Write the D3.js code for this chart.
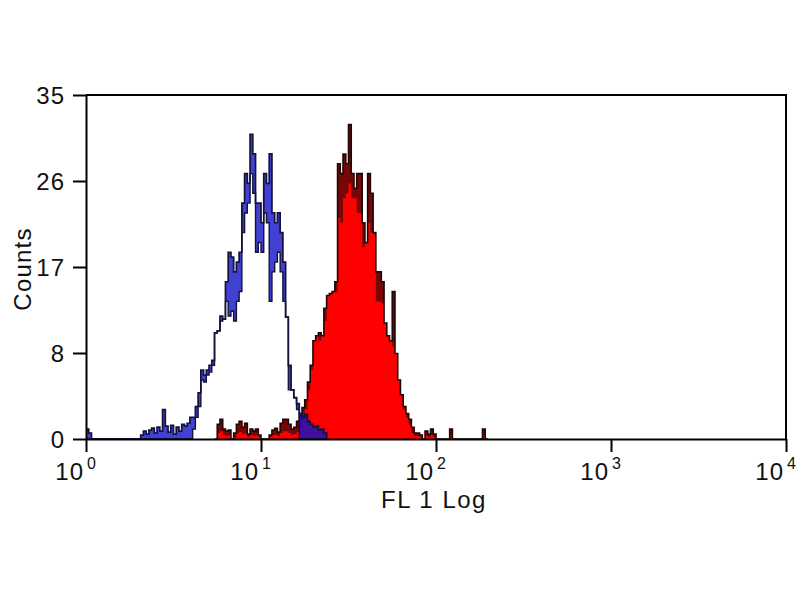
<!DOCTYPE html>
<html>
<head>
<meta charset="utf-8">
<script src="https://cdn.jsdelivr.net/npm/d3@7"></script>
<style>
  html, body { margin: 0; padding: 0; background: #ffffff; }
  svg { display: block; }
  text { font-family: "Liberation Sans", Arial, Helvetica, sans-serif; fill: #111; }
</style>
</head>
<body>
<script>
// ---------------- data ----------------
const binsPerDecade = 64;                 // histogram channels per decade
const xDomain = [1, 10000];
const xTickValues = [1, 10, 100, 1000, 10000];
const xTickBase = ["10", "10", "10", "10", "10"];
const xTickExponents = ["0", "1", "2", "3", "4"];
const yDomain = [0, 35];
const yTickValues = [0, 8.75, 17.5, 26.25, 35];
const yTickLabels = ["0", "8", "17", "26", "35"];
const xLabel = "FL 1 Log";
const yLabel = "Counts";

// control (blue outline) histogram: per-bin peak and trough counts, starting at bin 0
const blueStart = 0;
const blueHi = [1, 0.6,
  0,0,0,0,0,0,0,0,0,0,0,0,0,0,0,0,0,0,
  0.4, 0.8, 0.5, 0.9, 1.1, 0.6, 1.2, 0.8, 3.0, 1.3,
  0.7, 1.4, 0.5, 1.2, 0.8, 1.5, 1.3, 1.6, 2.2, 2.2,
  3.3, 4.7, 7, 6.5, 7, 7.5, 8, 10.8, 11, 12.5,
  12.2, 16, 19, 18.5, 17, 18, 19, 24, 27, 26,
  31, 29, 24, 24, 22, 27, 26, 29, 23, 22,
  23, 21, 18, 12.4, 7.5, 5, 4.2, 3.6, 2.6, 2.2,
  2.5, 1.8, 1.5, 1.2, 1.3, 0.9, 1.0, 0.6];
const blueLo = [0, 0,
  0,0,0,0,0,0,0,0,0,0,0,0,0,0,0,0,0,0,
  0, 0, 0, 0, 0, 0, 0, 0, 0, 0,
  0, 0, 0, 0, 0, 0, 0, 0, 0, 1,
  2.2, 3.3, 6, 5.8, 6.5, 6.8, 7.5, 10.8, 11, 12,
  12.2, 14, 12.5, 13, 12, 14, 15, 21, 23, 24,
  27, 25, 19, 20, 19, 23, 22, 14, 17, 18,
  19, 17, 14, 12.4, 5, 5, 4.2, 3,
  0, 0, 0, 0, 0, 0, 0, 0, 0, 0];

// stained (red filled) histogram: per-bin peak and trough counts, starting at bin 47
const redStart = 47;
const redHi = [0, 1.5, 2.0, 1.0, 0.8, 0.9, 0, 0.6, 1.5, 1.8,
  1.2, 1.6, 0.5, 1.0, 0.8, 1.0, 0.4, 0, 0, 0,
  0.4, 0.9, 1.1, 0.7, 1.6, 2.0, 2.0, 1.5, 1.0, 1.2,
  1.8, 2.5, 3.2, 4.0, 5.8, 7.5, 10, 10.5, 10.8, 10.5,
  13.3, 14.6, 14.8, 15, 16, 28, 27, 29, 28, 32,
  27, 25.5, 27, 27, 22, 20, 27, 25, 21, 17,
  17, 16, 11.8, 10.5, 10, 15, 8.7, 6, 4.5, 3.3,
  2.6, 2.0, 1.2, 0.6, 0.6, 0.4, 0, 0.8, 0.5, 1.0,
  0.5, 0, 0, 0, 0, 0, 1.0, 0, 0, 0,
  0, 0, 0, 0, 0, 0, 0, 0, 1.0, 0];
const redLo = [0, 0.6, 0.8, 0.4, 0.3, 0.4, 0, 0.2, 0.6, 0.7,
  0.5, 0.6, 0.2, 0.4, 0.3, 0.4, 0.2, 0, 0, 0,
  0.2, 0.4, 0.4, 0.3, 0.6, 0.8, 0.8, 0.6, 0.4, 0.5,
  0.7, 1.2, 2.0, 3.0, 5.0, 7.0, 10, 10.5, 10, 10.5,
  12, 14.6, 14.8, 15, 15, 22.5, 22, 24.5, 25, 26,
  24.5, 24.5, 23, 23, 19.5, 20, 22, 21, 21, 14,
  14, 13.8, 11.8, 10.5, 10, 9.4, 8.7, 6, 4.5, 3.0,
  2.2, 1.5, 0.6, 0.3, 0.3, 0.2, 0, 0.3, 0.2, 0.4,
  0.2, 0, 0, 0, 0, 0, 0.3, 0, 0, 0,
  0, 0, 0, 0, 0, 0, 0, 0, 0.3, 0];

// ---------------- chart ----------------
const W = 800, H = 600;
const svg = d3.select("body").append("svg").attr("width", W).attr("height", H);
svg.append("rect").attr("width", W).attr("height", H).attr("fill", "#fff");

const x = d3.scaleLog().domain(xDomain).range([86, 786]);
const y = d3.scaleLinear().domain(yDomain).range([439, 95]);
const edge = i => x(Math.pow(10, i / binsPerDecade));

function points(start, hi, lo) {
  const p = hi.map((h, k) => ({ i: start + k, hi: h, lo: lo[k] }));
  p.push({ i: start + hi.length, hi: 0, lo: 0 });
  return p;
}
const redPts = points(redStart, redHi, redLo);
const bluePts = points(blueStart, blueHi, blueLo);

const fullArea = d3.area().curve(d3.curveStepAfter)
  .x(d => edge(d.i)).y0(y(0)).y1(d => y(d.hi));
const bandArea = d3.area().curve(d3.curveStepAfter)
  .x(d => edge(d.i)).y0(d => y(d.lo)).y1(d => y(d.hi));
const hiLine = d3.line().curve(d3.curveStepAfter).x(d => edge(d.i)).y(d => y(d.hi));
const loLine = d3.line().curve(d3.curveStepAfter).x(d => edge(d.i)).y(d => y(d.lo));

const g = svg.append("g");
// red filled histogram
g.append("path").attr("d", fullArea(redPts)).attr("fill", "#ff0000");
g.append("path").attr("d", bandArea(redPts)).attr("fill", "#4a0a08").attr("fill-opacity", 0.75);
g.append("path").attr("d", hiLine(redPts)).attr("fill", "none")
  .attr("stroke", "#1e0606").attr("stroke-width", 1.6);
// blue outline histogram
g.append("path").attr("d", bandArea(bluePts)).attr("fill", "#1212c8").attr("fill-opacity", 0.8);
g.append("path").attr("d", loLine(bluePts)).attr("fill", "none")
  .attr("stroke", "#12123a").attr("stroke-width", 1.4);
g.append("path").attr("d", hiLine(bluePts)).attr("fill", "none")
  .attr("stroke", "#12123a").attr("stroke-width", 1.7);

// frame (top and right)
svg.append("path")
  .attr("d", `M${x(xDomain[0])},${y(yDomain[1])}H${x(xDomain[1])}V${y(0)}`)
  .attr("fill", "none").attr("stroke", "#000").attr("stroke-width", 2);

// y axis
const yAxis = svg.append("g").attr("transform", `translate(${x(xDomain[0])},0)`)
  .call(d3.axisLeft(y).tickValues(yTickValues)
    .tickFormat((d, i) => yTickLabels[i]).tickSize(13).tickSizeOuter(0).tickPadding(8));
yAxis.select(".domain").attr("stroke", "#000").attr("stroke-width", 2);
yAxis.selectAll(".tick line").attr("stroke", "#000").attr("stroke-width", 2);
yAxis.selectAll(".tick text").attr("font-size", 24).attr("letter-spacing", 1)
  .attr("dy", "0.36em").attr("fill", "#111")
  .style("font-family", '"Liberation Sans", Arial, sans-serif');

// x axis
const xAxis = svg.append("g").attr("transform", `translate(0,${y(0)})`)
  .call(d3.axisBottom(x).tickValues(xTickValues).tickFormat(() => "")
    .tickSize(13).tickSizeOuter(0));
xAxis.select(".domain").attr("stroke", "#000").attr("stroke-width", 2);
xAxis.selectAll(".tick line").attr("stroke", "#000").attr("stroke-width", 2);
xAxis.selectAll(".tick text").remove();

const xl = svg.append("g");
xTickValues.forEach((v, k) => {
  xl.append("text").attr("x", x(v) - 2).attr("y", 480)
    .attr("text-anchor", "end").attr("font-size", 24).attr("letter-spacing", 1)
    .text(xTickBase[k]);
  xl.append("text").attr("x", x(v) + 1).attr("y", 469)
    .attr("text-anchor", "start").attr("font-size", 16)
    .text(xTickExponents[k]);
});

// axis titles
svg.append("text").attr("x", 434).attr("y", 508).attr("text-anchor", "middle")
  .attr("font-size", 24).attr("letter-spacing", 1.5).text(xLabel);
svg.append("text").attr("transform", "translate(31,269) rotate(-90)")
  .attr("text-anchor", "middle").attr("font-size", 24).attr("letter-spacing", 1.2)
  .text(yLabel);
</script>
</body>
</html>
